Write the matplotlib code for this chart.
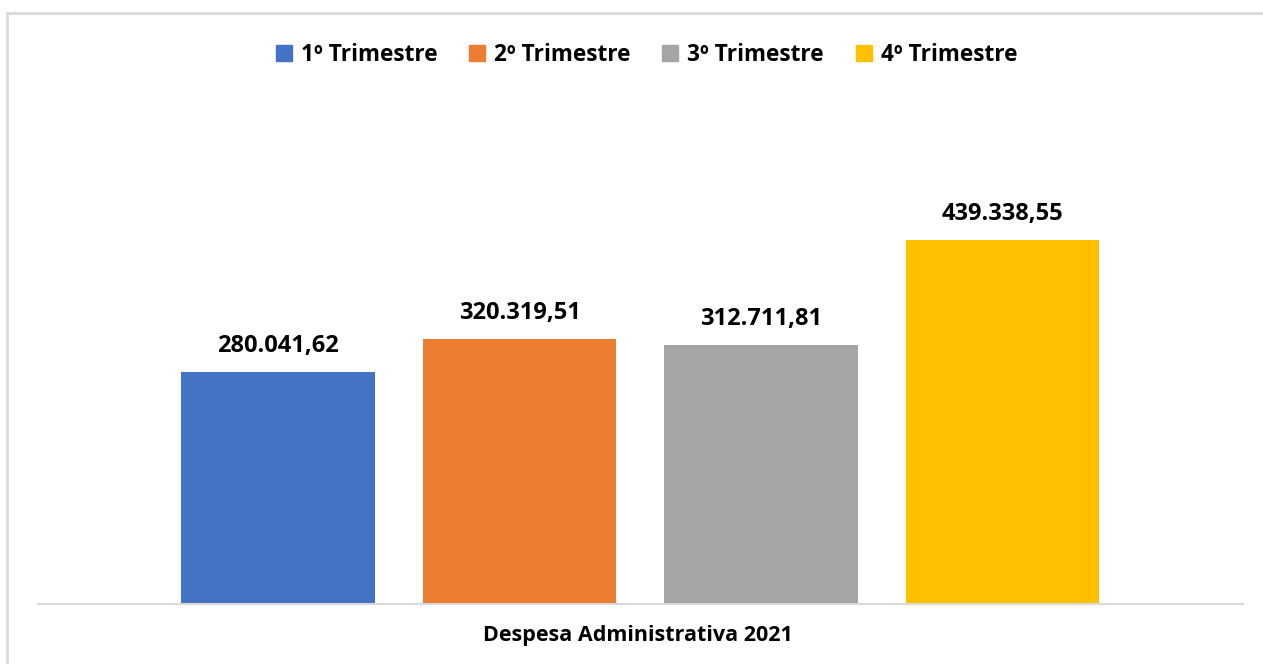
import matplotlib.pyplot as plt
from matplotlib.patches import Rectangle
from matplotlib.lines import Line2D

# Data
series = ["1º Trimestre", "2º Trimestre", "3º Trimestre", "4º Trimestre"]
values = [280041.62, 320319.51, 312711.81, 439338.55]
labels = ["280.041,62", "320.319,51", "312.711,81", "439.338,55"]
colors = ["#4472C4", "#ED7D31", "#A5A5A5", "#FFC000"]
category = "Despesa Administrativa 2021"

plt.rcParams['font.family'] = ['Open Sans', 'DejaVu Sans']

W, H = 1263, 664
fig = plt.figure(figsize=(W / 100, H / 100), dpi=100)

# chart border (light gray frame, left and top visible)
fig.patches.append(Rectangle((7 / W, -0.05), 1.2, (H - 13) / H + 0.05,
                             transform=fig.transFigure, fill=False,
                             edgecolor="#D9D9D9", linewidth=2))

# axes: x from 38 to 1243 px, baseline y=604, top y=190
ax = fig.add_axes([38 / W, (H - 604) / H, (1243 - 38) / W, (604 - 190) / H])
x = list(range(len(series)))
ax.bar(x, values, width=0.803, color=colors)
ax.set_xlim(-0.994, 3.996)
ax.set_ylim(0, 500000)

for xi, v, lab in zip(x, values, labels):
    ax.annotate(lab, (xi, v), xytext=(0, 10), textcoords="offset points",
                ha="center", va="bottom", fontsize=17, fontweight="bold",
                color="black")

for s in ["top", "right", "left"]:
    ax.spines[s].set_visible(False)
ax.spines["bottom"].set_color("#D9D9D9")
ax.spines["bottom"].set_linewidth(1.5)
ax.set_xticks([])
ax.set_yticks([])

fig.text(638 / W, (H - 636) / H, category, ha="center", va="center",
         fontsize=15.5, fontweight="bold")

handles = [Line2D([], [], marker="s", linestyle="none", markersize=11,
                  markerfacecolor=c, markeredgecolor=c) for c in colors]
fig.legend(handles, series, loc="center", bbox_to_anchor=(645 / W, (H - 55) / H),
           ncol=4, frameon=False, handletextpad=0.25, handlelength=1.0,
           columnspacing=1.25,
           prop={"size": 16.3, "weight": "bold"})

fig.savefig("out.png", dpi=100)
